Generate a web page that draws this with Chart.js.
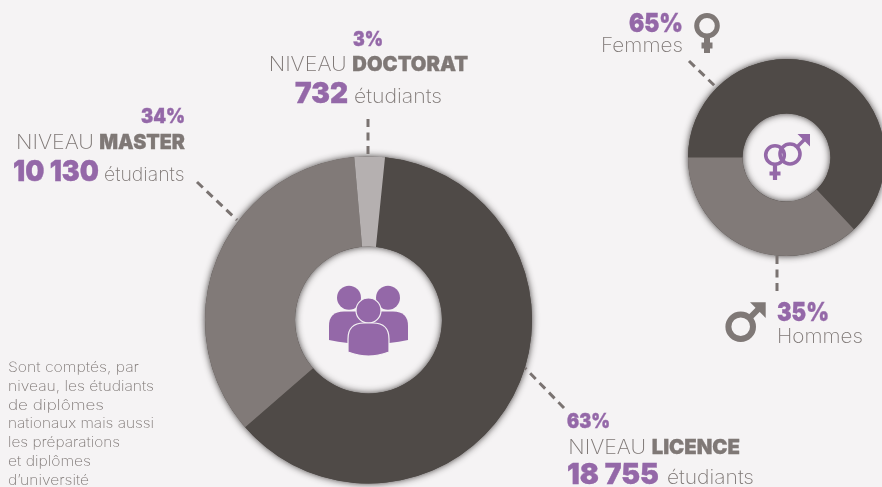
<!DOCTYPE html>
<html lang="fr"><head><meta charset="utf-8">
<script src="https://cdn.jsdelivr.net/npm/chart.js@4"></script>
<style>
html,body{margin:0;padding:0;background:#f5f3f4;width:882px;height:487px;overflow:hidden}
canvas{position:absolute}
#c1{left:193px;top:145px}
#c2{left:676px;top:47px}
svg{position:absolute;left:0;top:0}
text{font-family:Inter,"Open Sans",sans-serif}
.l{font-weight:200;fill:#7f7876}
.b{font-weight:900;fill:#7f7876;stroke:#7f7876;stroke-width:.3}
.p{font-weight:900;fill:#9468a8;stroke:#9468a8;stroke-width:.4}
.n{font-weight:200;fill:#7f7876}
.lead{stroke:#7a7371;stroke-width:3;stroke-dasharray:8 5.5;fill:none}
</style></head><body>
<canvas id="c1" width="351" height="350"></canvas>
<canvas id="c2" width="221" height="221"></canvas>
<svg id="ov" width="882" height="487" xmlns="http://www.w3.org/2000/svg">
  <line class="lead" x1="368" y1="119" x2="368" y2="157"/>
  <line class="lead" x1="197" y1="182" x2="237" y2="220"/>
  <line class="lead" x1="564" y1="408" x2="525" y2="368"/>
  <line class="lead" x1="689" y1="61" x2="717" y2="88"/>
  <line class="lead" x1="777" y1="256" x2="777" y2="295"/>
  <!-- people -->
  <g fill="#9468a8" stroke="#f5f3f4" stroke-width="0">
    <circle cx="349" cy="297.7" r="12"/><circle cx="388" cy="297.7" r="12"/>
    <path d="M329 340V326Q329 311.5 344 311.5H393Q408 311.5 408 326V340Q390 344 368.5 344T329 340Z"/>
    <g stroke-width="1.2">
    <circle cx="368.5" cy="310.5" r="12.5"/>
    <path d="M348 352V339Q348 323 364 323H373Q389 323 389 339V352Q378 356 368.5 356T348 352Z"/>
    </g>
  </g>
  <!-- centre gender symbol -->
  <g fill="none" stroke="#9468a8" stroke-width="3.6">
    <circle cx="775" cy="155" r="9.3"/><path d="M775 165V180M769.5 173.5H780.5" stroke-width="4.2"/>
    <circle cx="790" cy="154" r="10"/><path d="M797 147L807 137"/>
  </g>
  <path d="M810 134H797.5L810 146.5Z" fill="#9468a8"/>
  <!-- female gray -->
  <g fill="none" stroke="#7f7876">
    <circle cx="707" cy="25.7" r="10.3" stroke-width="5"/>
    <path d="M707 37V53M701.5 45.5H712.5" stroke-width="6"/>
    <circle cx="740.7" cy="326.7" r="12.3" stroke-width="6"/>
    <path d="M749.5 318L760 307.5" stroke-width="6"/>
  </g>
  <path d="M765.7 302.3H750L765.7 318Z" fill="#7f7876"/>
</svg>
<script>
const levelLabels = ["NIVEAU LICENCE", "NIVEAU MASTER", "NIVEAU DOCTORAT"];
const levelShare = [62, 35, 3];
const levelColors = ["#4f4a47", "#817a78", "#b5b0b0"];
const genderLabels = ["Femmes", "Hommes"];
const genderShare = [63, 37];
const genderColors = ["#4f4a47", "#817a78"];
const noteLines = ["Sont comptés, par","niveau, les étudiants","de diplômes","nationaux mais aussi","les préparations","et diplômes","d’université"];

// [text, class, x, baseline, width, font size]
const texts = [
 ["3%","p",353,46,30,20],
 ["NIVEAU","l",268.7,71,78,20],["DOCTORAT","b",352.3,71,115.7,20],
 ["732","p",295,103,53,29],["étudiants","l",354,103,88,20],
 ["34%","p",141,123,44,20],
 ["NIVEAU","l",16,149,78,20],["MASTER","b",99.3,149,85.7,20],
 ["10 130","p",13,181,86,29],["étudiants","l",104,181,80.5,19],
 ["63%","p",567,428,43,20],
 ["NIVEAU","l",568.3,454,77.7,20],["LICENCE","b",651.7,454,88.3,20],
 ["18 755","p",567,484,92,29],["étudiants","l",667,484,87,20],
 ["65%","p",629,32,54,26],["Femmes","l",601,52,82,20],
 ["35%","p",777,321,52,26],["Hommes","l",777,343,86,20]
];
const ov = document.getElementById('ov');
function addText(t,c,x,y,w,s){
  const e=document.createElementNS('http://www.w3.org/2000/svg','text');
  e.textContent=t;e.setAttribute('class',c);e.setAttribute('x',x);e.setAttribute('y',y);
  e.setAttribute('font-size',s);
  if(w){e.setAttribute('textLength',w);e.setAttribute('lengthAdjust','spacingAndGlyphs');}
  ov.appendChild(e);
}
texts.forEach(a=>addText(...a));
const noteWidths=[131,146,96,146,112,83,81];
noteLines.forEach((t,i)=>addText(t,'n',8,371.7+i*18.9,noteWidths[i],14.3));

// soft shadow under the whole ring, computed from the chart's own arcs
const ringShadow={id:'ringShadow',beforeDatasetsDraw(chart){
  const a=chart.getDatasetMeta(0).data[0];if(!a)return;
  const c=chart.ctx;c.save();
  c.shadowColor='rgba(40,36,34,.9)';c.shadowBlur=7;
  c.fillStyle='#4f4a47';c.beginPath();
  c.arc(a.x,a.y,a.outerRadius,0,Math.PI*2);
  c.arc(a.x,a.y,a.innerRadius,0,Math.PI*2,true);
  c.fill('evenodd');c.restore();
}};
function donut(id,labels,data,colors,radius,cutout,rotation){
  return new Chart(document.getElementById(id),{
    type:'doughnut',
    data:{labels,datasets:[{data,backgroundColor:colors,borderWidth:0,hoverOffset:0}]},
    options:{responsive:false,animation:false,radius,cutout,rotation,
      layout:{padding:0},
      plugins:{legend:{display:false},tooltip:{enabled:false}}},
    plugins:[ringShadow]
  });
}
donut('c1',levelLabels,levelShare,levelColors,163.5,'44.95%',5.8);
donut('c2',genderLabels,genderShare,genderColors,98.5,'44.67%',270);
</script>
</body></html>
